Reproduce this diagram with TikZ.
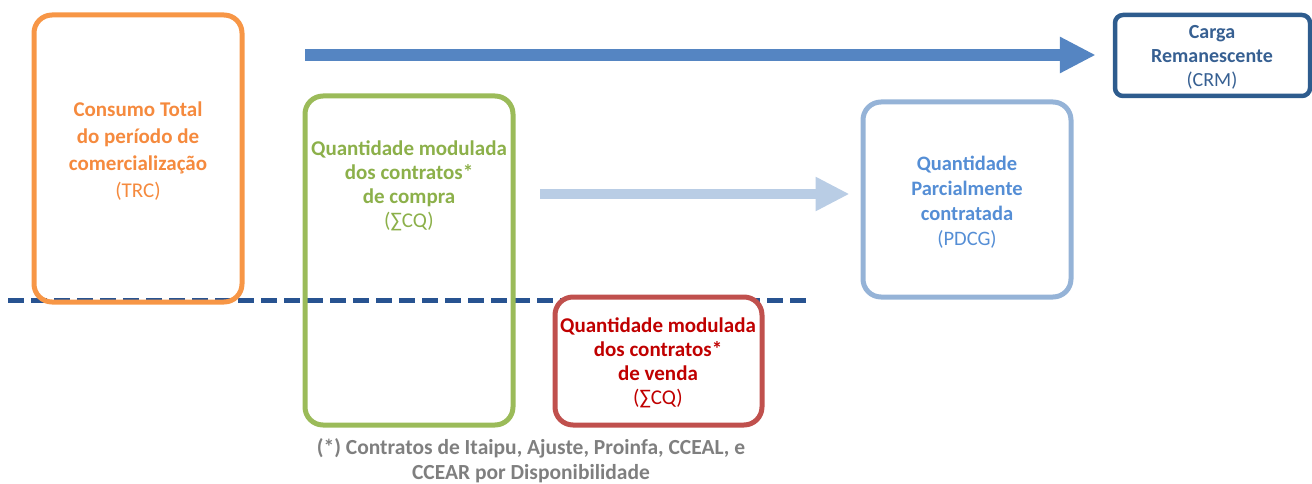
\documentclass[tikz,border=0pt]{standalone}
\usepackage{fontspec}
\setmainfont{Carlito}
\usetikzlibrary{arrows.meta}
\definecolor{cOr}{HTML}{F79646}
\definecolor{cOrT}{HTML}{F58A3E}
\definecolor{cGr}{HTML}{9BBB59}
\definecolor{cGrT}{HTML}{8CB04A}
\definecolor{cRd}{HTML}{C0504D}
\definecolor{cRdT}{HTML}{C00000}
\definecolor{cLb}{HTML}{95B3D7}
\definecolor{cLbT}{HTML}{558ED5}
\definecolor{cDb}{HTML}{2E5C8E}
\definecolor{cDbT}{HTML}{376092}
\definecolor{cAr}{HTML}{5585C2}
\definecolor{cLa}{HTML}{B9CDE5}
\definecolor{cDash}{HTML}{285391}
\definecolor{cFoot}{HTML}{7F7F7F}
\tikzset{
  boxstyle/.style={draw, line width=5pt, rounded corners=18pt, inner sep=0pt},
  txt/.style={align=center, font=\fontsize{21}{24}\selectfont\bfseries, inner sep=0pt},
}
\begin{document}
\begin{tikzpicture}[x=1pt,y=-1pt]
\useasboundingbox (0,0) rectangle (1312,484);
% dashed separator
\coordinate (d1) at (8,300);
\coordinate (d2) at (812,300);
\draw[cDash, line width=5pt, dash pattern=on 16pt off 7pt] (d1) -- (d2);
% boxes
\node[boxstyle, cOr, minimum width=208pt, minimum height=287pt] (trc) at (138,158.5) {};
\node[boxstyle, cGr, minimum width=208pt, minimum height=329pt] (cqc) at (409,260.5) {};
\node[boxstyle, cRd, fill=white, minimum width=207pt, minimum height=128pt] (cqv) at (658.5,361) {};
\node[boxstyle, cLb, minimum width=208pt, minimum height=195pt] (pdcg) at (967,199.5) {};
\node[boxstyle, cDb, line width=4.5pt, rounded corners=8pt, minimum width=195pt, minimum height=81pt] (crm) at (1212.5,55.5) {};
% texts
\node[txt, text=cOrT, font=\fontsize{21}{27}\selectfont\bfseries] (ttrc) at (138,151.5) {Consumo Total\\do período de\\comercialização\\{\mdseries (TRC)}};
\node[txt, text=cGrT] (tcqc) at (409,186) {Quantidade modulada\\dos contratos*\\de compra\\{\mdseries (∑CQ)}};
\node[txt, text=cRdT] (tcqv) at (658,363) {Quantidade modulada\\dos contratos*\\de venda\\{\mdseries (∑CQ)}};
\node[txt, text=cLbT, font=\fontsize{20.5}{25}\selectfont\bfseries] (tpdcg) at (967,202) {Quantidade\\Parcialmente\\contratada\\{\mdseries (PDCG)}};
\node[txt, text=cDbT, font=\fontsize{20}{24}\selectfont\bfseries] (tcrm) at (1212,57) {Carga\\Remanescente\\{\mdseries (CRM)}};
\node[txt, text=cFoot, font=\fontsize{21.5}{25}\selectfont\bfseries] (foot) at (531,461) {(*) Contratos de Itaipu, Ajuste, Proinfa, CCEAL, e\\CCEAR por Disponibilidade};
% arrows
\coordinate (a1s) at (305,55);
\coordinate (a1e) at ([xshift=-17pt]crm.west);
\draw[cAr, line width=12pt, -{Triangle[length=36pt,width=34pt]}] (a1s) -- (a1s -| a1e);
\coordinate (a2s) at (540,194);
\coordinate (a2e) at ([xshift=-11pt]pdcg.west);
\draw[cLa, line width=10pt, -{Triangle[length=34pt,width=32pt]}] (a2s) -- (a2s -| a2e);
\end{tikzpicture}
\end{document}
